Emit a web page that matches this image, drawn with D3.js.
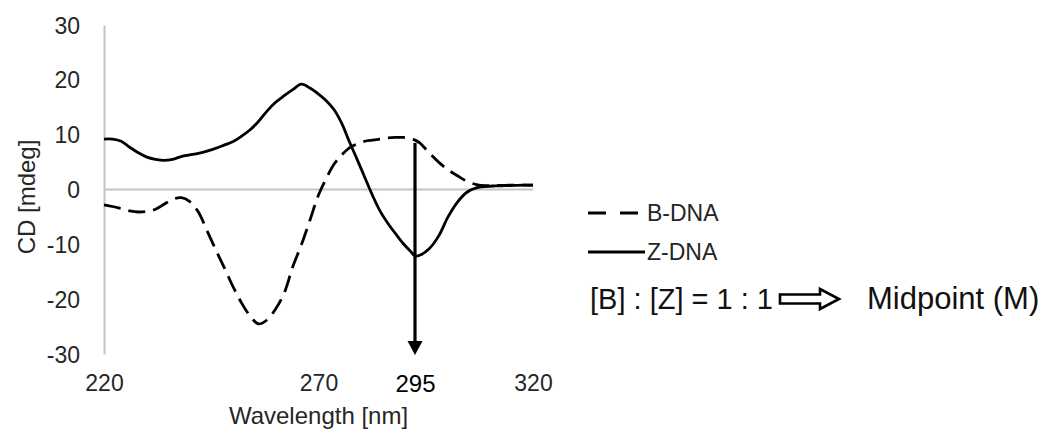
<!DOCTYPE html>
<html>
<head>
<meta charset="utf-8">
<script src="https://cdn.jsdelivr.net/npm/d3@7"></script>
<style>
  html, body { margin: 0; padding: 0; background: #fff; }
  svg { display: block; font-family: "Liberation Sans", Arial, sans-serif; }
</style>
</head>
<body>
<svg id="chart" width="1045" height="432"></svg>
<script>
// Wavelength samples (nm)
const wavelength = [
  220, 222, 224, 226, 228, 230, 232, 234, 236, 238,
  240, 242, 244, 246, 248, 250, 252, 254, 256, 258,
  260, 262, 264, 266, 268, 270, 272, 274, 276, 278,
  280, 282, 284, 286, 288, 290, 292, 294, 295, 296,
  298, 300, 302, 304, 306, 308, 310, 312, 314, 316,
  318, 320
];

// CD signal of B-form DNA (mdeg)
const bDNA = [
  -2.8, -3.1, -3.5, -3.9, -4.1, -4.0, -3.6, -2.7, -1.8, -1.5,
  -2.2, -4.1, -7.5, -10.9, -14.2, -17.6, -20.6, -23.0, -24.5, -23.8,
  -21.8, -18.9, -14.1, -10.1, -5.6, -1.0, 2.0, 4.6, 6.3, 7.6,
  8.3, 8.8, 9.0, 9.2, 9.4, 9.5, 9.5, 9.2, 9.0, 8.5,
  6.7, 5.0, 3.6, 2.5, 1.5, 0.9, 0.7, 0.75, 0.75, 0.8,
  0.8, 0.8
];

// CD signal of Z-form DNA (mdeg)
const zDNA = [
  9.2, 9.2, 8.8, 7.7, 6.7, 5.9, 5.5, 5.3, 5.5, 6.0,
  6.3, 6.6, 7.0, 7.5, 8.1, 8.7, 9.7, 10.85, 12.4, 14.3,
  15.9, 17.1, 18.2, 19.2, 18.5, 17.4, 16.2, 14.6, 12.1, 8.7,
  5.5, 2.2, -1.1, -4.0, -6.2, -8.1, -9.9, -11.4, -12.1, -12.0,
  -10.8, -8.5, -5.0, -2.3, -0.5, 0.3, 0.55, 0.65, 0.7, 0.75,
  0.8, 0.8
];

// Axis ticks
const xTicks = [220, 270, 295, 320];
const yTicks = [-30, -20, -10, 0, 10, 20, 30];

// Wavelength marked by the arrow, and where the arrow starts (mdeg)
const markWavelength = 295;
const markTop = 8.5;

const svg = d3.select("#chart");

// The axis positions follow the labelled wavelengths
const x = d3.scaleLinear()
  .domain(xTicks)
  .range([104, 318.5, 415, 533]);

const y = d3.scaleLinear()
  .domain([-30, 30])
  .range([354, 25]);

const gridGrey = "#c4c4c4";
const textColor = "#262626";
const fmt = d => String(d);

// Vertical axis
const yAxis = svg.append("g")
  .attr("transform", `translate(${x(220)},0)`)
  .call(d3.axisLeft(y).tickValues(yTicks).tickSize(0).tickPadding(24).tickFormat(fmt));
yAxis.select(".domain").attr("stroke", gridGrey).attr("stroke-width", 2);
yAxis.selectAll("text")
  .attr("font-size", 23)
  .attr("fill", textColor)
  .attr("font-family", "Liberation Sans, Arial, sans-serif")
  .attr("dy", "0.35em");

// Horizontal axis: line at zero, labels below the plot
svg.append("line")
  .attr("x1", x(220)).attr("x2", x(320))
  .attr("y1", y(0)).attr("y2", y(0))
  .attr("stroke", gridGrey).attr("stroke-width", 2);

const xAxis = svg.append("g")
  .attr("transform", `translate(0,${y(-30)})`)
  .call(d3.axisBottom(x).tickValues(xTicks).tickSize(0).tickPadding(21).tickFormat(fmt));
xAxis.select(".domain").remove();
xAxis.selectAll("text")
  .attr("font-size", d => d === markWavelength ? 24 : 23)
  .attr("fill", d => d === markWavelength ? "#000" : textColor)
  .attr("font-family", "Liberation Sans, Arial, sans-serif");

// Axis titles
svg.append("text")
  .attr("x", x(270)).attr("y", 424)
  .attr("text-anchor", "middle")
  .attr("font-size", 24)
  .attr("fill", textColor)
  .text("Wavelength [nm]");

svg.append("text")
  .attr("transform", "translate(35,197) rotate(-90)")
  .attr("text-anchor", "middle")
  .attr("font-size", 24)
  .attr("fill", textColor)
  .text("CD [mdeg]");

// Spectra
const line = d3.line()
  .x((d, i) => x(wavelength[i]))
  .y(d => y(d))
  .curve(d3.curveCatmullRom.alpha(0.5));

svg.append("path")
  .datum(bDNA)
  .attr("d", line)
  .attr("fill", "none")
  .attr("stroke", "#000")
  .attr("stroke-width", 2.8)
  .attr("stroke-dasharray", "17,8");

svg.append("path")
  .datum(zDNA)
  .attr("d", line)
  .attr("fill", "none")
  .attr("stroke", "#000")
  .attr("stroke-width", 2.8);

// Arrow marking the midpoint wavelength
const ax = x(markWavelength);
const tipY = y(-30) + 1;
svg.append("line")
  .attr("x1", ax).attr("x2", ax)
  .attr("y1", y(markTop)).attr("y2", tipY - 10)
  .attr("stroke", "#000").attr("stroke-width", 3.2);
svg.append("path")
  .attr("d", `M${ax - 7.5},${tipY - 14} L${ax + 7.5},${tipY - 14} L${ax},${tipY} Z`)
  .attr("fill", "#000");

// Legend
const legend = svg.append("g");
const legendItems = [
  { label: "B-DNA", dash: "18,14", cy: 213 },
  { label: "Z-DNA", dash: null, cy: 252 }
];
legendItems.forEach(item => {
  legend.append("line")
    .attr("x1", 588).attr("x2", 645)
    .attr("y1", item.cy).attr("y2", item.cy)
    .attr("stroke", "#000").attr("stroke-width", 2.8)
    .attr("stroke-dasharray", item.dash);
  legend.append("text")
    .attr("x", 647).attr("y", item.cy)
    .attr("dy", "0.35em")
    .attr("font-size", 23)
    .attr("fill", textColor)
    .text(item.label);
});

// Ratio note with a hollow arrow
const note = svg.append("g");
note.append("text")
  .attr("x", 590).attr("y", 309)
  .attr("font-size", 29)
  .attr("fill", "#111")
  .text("[B] : [Z] = 1 : 1");
const ay = 299;
note.append("path")
  .attr("d", `M780,${ay - 4.5} L820,${ay - 4.5} L820,${ay - 10} L839,${ay} L820,${ay + 10} L820,${ay + 4.5} L780,${ay + 4.5} Z`)
  .attr("fill", "#fff")
  .attr("stroke", "#000")
  .attr("stroke-width", 2.6)
  .attr("stroke-linejoin", "miter");
note.append("text")
  .attr("x", 867).attr("y", 309)
  .attr("font-size", 31)
  .attr("fill", "#111")
  .text("Midpoint (M)");
</script>
</body>
</html>
